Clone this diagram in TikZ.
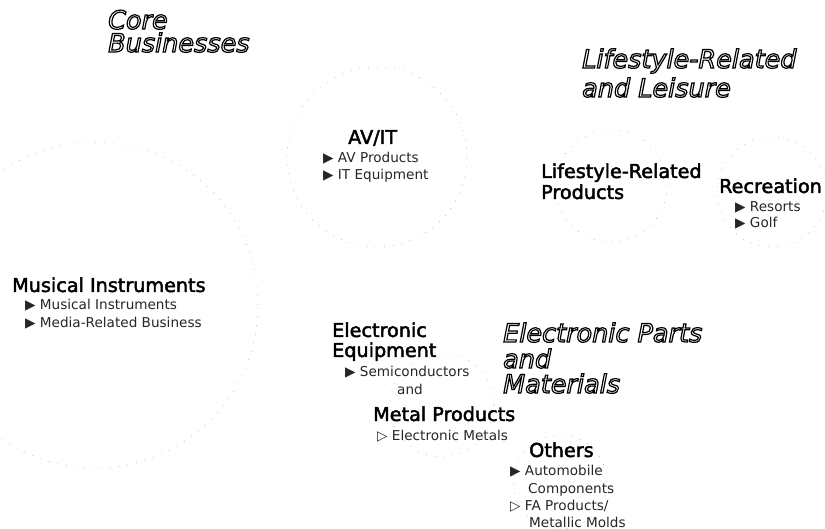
\documentclass[tikz,border=0pt]{standalone}
\usepackage{fontspec}
\setmainfont{DejaVu Sans}
\usepackage{tikz}
\usetikzlibrary{positioning}
\newcommand{\Hollow}[1]{\special{pdf:literal direct 1 Tr 1.2 w}#1\special{pdf:literal direct 0 Tr}}
\newcommand{\Heavy}[1]{\special{pdf:literal direct 2 Tr 0.45 w}#1\special{pdf:literal direct 0 Tr}}
\tikzset{TitleStyle/.style = {
			      anchor         = base west,
			      inner sep      = 0pt,
			      text           = black,
			      font           = \fontsize{25.5}{26}\selectfont\itshape}
						}
\tikzset{HeadStyle/.style = {
			      anchor         = base west,
			      inner sep      = 0pt,
			      text           = black,
			      font           = \fontsize{19.2}{20}\selectfont}
						}
\tikzset{ItemStyle/.style = {
			      anchor         = base west,
			      inner sep      = 0pt,
			      text           = black!85,
			      font           = \fontsize{13.6}{14}\selectfont}
						}
\tikzset{RingStyle/.style = {draw=black!35, line width=0.5pt, dash pattern=on 0.8pt off 8pt}}

\begin{document}
\begin{tikzpicture}[x=1pt,y=1pt]
	\useasboundingbox (0,0) rectangle (825,-529);
	% faint rings
	\begin{scope}
		\clip (0,0) rectangle (825,-529);
		\draw[RingStyle] (95,-305) circle[radius=163pt];
		\draw[RingStyle] (377,-157) circle[radius=90pt];
		\draw[RingStyle] (611,-186) circle[radius=56pt];
		\draw[RingStyle] (772,-192) circle[radius=55pt];
		\draw[RingStyle] (442,-405) circle[radius=52pt];
		\draw[RingStyle] (560,-482) circle[radius=47pt];
	\end{scope}

	% group titles
	\draw (108,-29) node[TitleStyle]   (Core) {\Hollow{Core}};
	\draw (108,-52) node[TitleStyle]   (Bus) {\Hollow{Businesses}};
	\draw (582,-68) node[TitleStyle]   (Life) {\Hollow{Lifestyle-Related}};
	\draw (582,-97) node[TitleStyle]   (Leis) {\Hollow{and Leisure}};
	\draw (503,-342) node[TitleStyle]  (EP) {\Hollow{Electronic Parts}};
	\draw (503,-368) node[TitleStyle]  (EPand) {\Hollow{and}};
	\draw (503,-393) node[TitleStyle]  (Mat) {\Hollow{Materials}};

	% AV/IT
	\draw (348,-144) node[HeadStyle]   (AVIT) {\Heavy{AV/IT}};
	\draw (323,-163) node[ItemStyle]   (AV) {▶ AV Products};
	\draw (323,-180) node[ItemStyle]   (IT) {▶ IT Equipment};

	% lifestyle and recreation
	\draw (541,-178) node[HeadStyle]   (LRP1) {\Heavy{Lifestyle-Related}};
	\draw (541,-199) node[HeadStyle]   (LRP2) {\Heavy{Products}};
	\draw (719,-193) node[HeadStyle]   (Rec) {\Heavy{Recreation}};
	\draw (735,-212) node[ItemStyle]   (Res) {▶ Resorts};
	\draw (735,-228) node[ItemStyle]   (Golf) {▶ Golf};

	% musical instruments
	\draw (12,-292) node[HeadStyle]    (MI) {\Heavy{Musical Instruments}};
	\draw (25,-310) node[ItemStyle]    (MI1) {▶ Musical Instruments};
	\draw (25,-328) node[ItemStyle]    (MI2) {▶ Media-Related Business};

	% electronic equipment, metal products, others
	\draw (332,-337) node[HeadStyle]   (EE1) {\Heavy{Electronic}};
	\draw (332,-357) node[HeadStyle]   (EE2) {\Heavy{Equipment}};
	\draw (345,-377) node[ItemStyle]   (Semi) {▶ Semiconductors};
	\draw (397,-395) node[ItemStyle]   (EEand) {and};
	\draw (373,-421) node[HeadStyle]   (MP) {\Heavy{Metal Products}};
	\draw (377,-440) node[ItemStyle]   (EM) {▷ Electronic Metals};
	\draw (529,-457) node[HeadStyle]   (Oth) {\Heavy{Others}};
	\draw (510,-475) node[ItemStyle]   (Auto1) {▶ Automobile};
	\draw (528,-493) node[ItemStyle]   (Auto2) {Components};
	\draw (510,-510) node[ItemStyle]   (FA1) {▷ FA Products/};
	\draw (529,-527) node[ItemStyle]   (FA2) {Metallic Molds};
\end{tikzpicture}
\end{document}
